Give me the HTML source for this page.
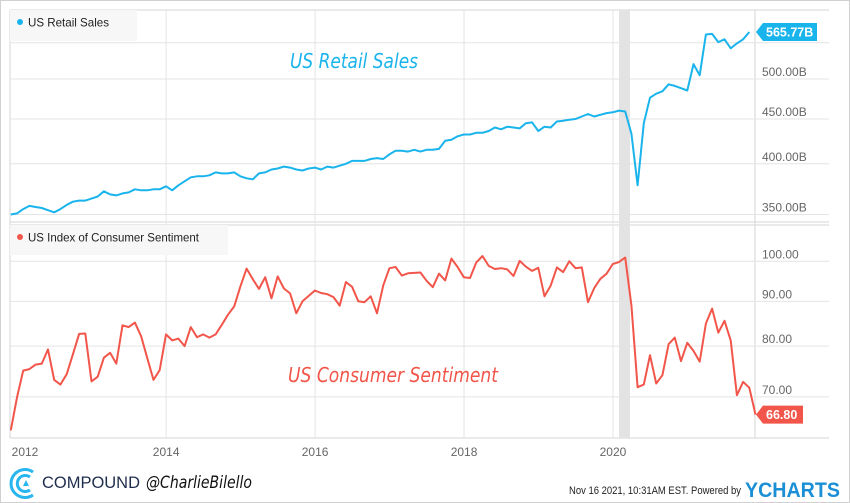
<!DOCTYPE html>
<html><head><meta charset="utf-8"><style>
html,body{margin:0;padding:0;background:#fff;}
svg{display:block;font-family:"Liberation Sans",sans-serif;}
</style></head><body>
<svg id="chart" width="850" height="503" viewBox="0 0 850 503">
<rect x="0.5" y="0.5" width="849" height="502" fill="#fff" stroke="#d0d0d0"/>
<g id="grid"></g>
<rect x="619" y="10" width="11" height="428" fill="#e3e3e3"/>
<g id="series"></g>
<rect x="10" y="10" width="127" height="31" fill="#f7f7f7"/>
<circle cx="20" cy="22" r="3" fill="#1ab4ec"/>
<text x="28" y="26.5" font-size="12" fill="#222" textLength="81" lengthAdjust="spacingAndGlyphs">US Retail Sales</text>
<rect x="10" y="225" width="218" height="30" fill="#f7f7f7"/>
<circle cx="20" cy="237" r="3" fill="#f2564a"/>
<text x="28" y="241.5" font-size="12" fill="#222" textLength="171" lengthAdjust="spacingAndGlyphs">US Index of Consumer Sentiment</text>
<text x="290" y="68" font-size="20" font-style="italic" fill="#1ab4ec" font-family="'DejaVu Sans',sans-serif" textLength="128" lengthAdjust="spacingAndGlyphs">US Retail Sales</text>
<text x="288" y="382" font-size="20" font-style="italic" fill="#f2564a" font-family="'DejaVu Sans',sans-serif" textLength="210" lengthAdjust="spacingAndGlyphs">US Consumer Sentiment</text>
<g id="badges"></g>
<g>
<path d="M33 472 A14 14 0 1 0 33 495" fill="none" stroke="#29b6ee" stroke-width="3"/>
<path d="M30 477 A8 8 0 1 0 30 490" fill="none" stroke="#29b6ee" stroke-width="3"/>
<path d="M23 486 L26 480 L29 486 Z" fill="#29b6ee"/>
<text x="42" y="488" font-size="17" fill="#1f2d4d" textLength="98" lengthAdjust="spacingAndGlyphs">COMPOUND</text>
<text x="146" y="488" font-size="17" font-style="italic" fill="#111" font-family="'DejaVu Sans',sans-serif" textLength="106" lengthAdjust="spacingAndGlyphs">@CharlieBilello</text>
<text x="569" y="494" font-size="11" fill="#222" textLength="172" lengthAdjust="spacingAndGlyphs">Nov 16 2021, 10:31AM EST.  Powered by</text>
<text x="745" y="497" font-size="21" font-weight="bold" fill="#1a8fd5" textLength="95" lengthAdjust="spacingAndGlyphs">YCHARTS</text>
</g>
</svg>
<script>
const retailValues=[350,351,355,358,357,356,354,352,355,359,362,363,363,365,367,372,369,368,370,371,374,373,373,374,374,377,373,378,382,386,387,387,388,391,390,390,391,387,385,384,390,391,394,395,397,396,394,393,395,396,394,397,396,398,400,403,403,403,405,406,405,410,414,414,413,415,413,415,415,416,425,426,430,432,432,434,434,436,440,438,441,440,439,445,446,436,441,440,447,448,449,450,453,456,453,455,457,458,460,459,433,378,445,476,481,484,493,491,488,485,520,505,562,563,551,555,542,549,555,565.77];
const sentimentValues=[64.1,69.9,75.0,75.3,76.2,76.4,79.3,73.2,72.3,74.3,78.3,82.6,82.7,72.9,73.8,77.6,78.6,76.4,84.5,84.1,85.1,82.1,77.5,73.2,75.1,82.5,81.2,81.6,80.0,84.1,81.9,82.5,81.8,82.5,84.6,86.9,88.8,93.6,98.1,95.4,93.0,95.9,90.7,96.1,93.1,91.9,87.2,90.0,91.3,92.6,92.0,91.7,91.0,89.0,94.7,93.5,90.0,89.8,91.2,87.2,93.8,98.2,98.5,96.3,96.9,97.0,97.1,95.0,93.4,96.8,95.1,100.7,98.5,95.9,95.7,99.7,101.4,98.8,98.0,98.2,97.9,96.2,100.1,98.6,97.5,98.3,91.2,93.8,98.4,97.2,100.0,98.2,98.4,89.8,93.2,95.5,96.8,99.3,99.8,101.0,89.1,71.8,72.3,78.1,72.5,74.1,80.4,81.8,76.9,80.7,79.0,76.8,84.9,88.3,82.9,85.5,81.2,70.3,72.8,71.7,66.8];
const yearLabels=["2012","2014","2016","2018","2020"];
const yearMonthIndex=[2,26,50,74,98];
const retailTicks=[350,400,450,500,550];
const sentimentTicks=[70,80,90,100];

const NS="http://www.w3.org/2000/svg";
function mk(tag,attrs,parent){const e=document.createElementNS(NS,tag);for(const k in attrs)e.setAttribute(k,attrs[k]);parent.appendChild(e);return e;}
function xScale(i){return 10.8+i*6.206;}
function yRetail(v){return 119-380*Math.log(v/450);}
function ySent(v){return 261.3-380*Math.log(v/100);}
const grid=document.getElementById('grid'),series=document.getElementById('series'),badges=document.getElementById('badges');

// panel borders
[[10],[222],[225],[438]].forEach(([y])=>{const l=mk('line',{x1:10,x2:829,y1:y,y2:y,stroke:'#d6d6d6'},grid);

});
mk('line',{x1:10,x2:10,y1:10,y2:438,stroke:'#d6d6d6'},grid);
mk('line',{x1:755,x2:755,y1:10,y2:438,stroke:'#d6d6d6'},grid);

yearLabels.forEach((lab,k)=>{const x=xScale(yearMonthIndex[k])-(k===0?0:6);
if(k>0){const l=mk('line',{x1:x,x2:x,y1:10,y2:438,stroke:'#e4e4e4'},grid);

}
const t=mk('text',{x:k===0?25:x,y:456,'font-size':12,fill:'#666','text-anchor':'middle'},grid);t.textContent=lab;

});

retailTicks.forEach(v=>{const y=yRetail(v);const l=mk('line',{x1:10,x2:829,y1:y,y2:y,stroke:'#e4e4e4'},grid);


if(v<550){const t=mk('text',{x:762,y:y-3,'font-size':12,fill:'#666'},grid);t.textContent=v.toFixed(2)+'B';

}});
sentimentTicks.forEach(v=>{const y=ySent(v);const l=mk('line',{x1:10,x2:829,y1:y,y2:y,stroke:'#e4e4e4'},grid);


const t=mk('text',{x:762,y:y-3,'font-size':12,fill:'#666'},grid);t.textContent=v.toFixed(2);

});

const rp=mk('polyline',{points:retailValues.map((v,i)=>xScale(i).toFixed(1)+','+yRetail(v).toFixed(1)).join(' '),fill:'none',stroke:'#1ab4ec','stroke-width':2,'stroke-linejoin':'round'},series);


const sp=mk('polyline',{points:sentimentValues.map((v,i)=>xScale(i).toFixed(1)+','+ySent(v).toFixed(1)).join(' '),fill:'none',stroke:'#f2564a','stroke-width':2,'stroke-linejoin':'round'},series);



function badge(y,txt,color,w,name){const g=mk('g',{},badges);


mk('path',{d:`M756 ${y} L763 ${y-9} L${756+w} ${y-9} L${756+w} ${y+9} L763 ${y+9} Z`,fill:color},g);
const t=mk('text',{x:766,y:y+4.5,'font-size':12.5,'font-weight':'bold',fill:'#fff'},g);t.textContent=txt;}
badge(yRetail(retailValues[retailValues.length-1]),retailValues[retailValues.length-1].toFixed(2)+'B','#1ab4ec',61,'retail-last-value-badge');
badge(ySent(sentimentValues[sentimentValues.length-1]),sentimentValues[sentimentValues.length-1].toFixed(2),'#f2564a',47,'sentiment-last-value-badge');
</script>
</body></html>
